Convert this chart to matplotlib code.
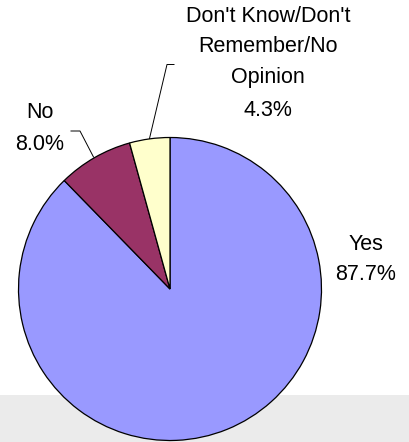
import matplotlib
matplotlib.use("Agg")
import matplotlib.pyplot as plt
from matplotlib.patches import Rectangle

labels = ["Yes", "No", "Don't Know/Don't\nRemember/No\nOpinion"]
values = [87.7, 8.0, 4.3]
colors = ["#9999FF", "#993366", "#FFFFCC"]

W, H = 409, 442
fig = plt.figure(figsize=(W / 100, H / 100), dpi=100)
ax = fig.add_axes([0, 0, 1, 1])
ax.set_xlim(0, W)
ax.set_ylim(0, H)
ax.set_aspect("equal")
ax.axis("off")

# faint background band (textured backdrop in the original)
ax.add_patch(Rectangle((0, 0), W, H - 395, facecolor="#ebebeb", edgecolor="none", zorder=0))

cx, cy, r = 170, H - 289, 151.5
ax.pie(values, colors=colors, startangle=90, counterclock=False,
       center=(cx, cy), radius=r,
       wedgeprops=dict(edgecolor="black", linewidth=0.9, zorder=2))
ax.set_xlim(0, W)
ax.set_ylim(0, H)

font = dict(family="Liberation Sans", fontsize=15.5, color="black")
label_pos = {
    0: (366, [245, 275]),
    1: (40, [113, 145]),
    2: (268, [17, 47, 78, 110]),
}
for i, (x, ys) in label_pos.items():
    lines = labels[i].split("\n") + [f"{values[i]:.1f}%"]
    for line, y in zip(lines, ys):
        ax.text(x, H - y, line, ha="center", va="center", **font)

# leader lines
ax.plot([71, 80, 93.5], [H - 131, H - 131, H - 157], color="black", lw=0.7)
ax.plot([174, 167, 149.5], [H - 64.5, H - 64.5, H - 138.5], color="black", lw=0.7)

fig.savefig("out.png", dpi=100)
